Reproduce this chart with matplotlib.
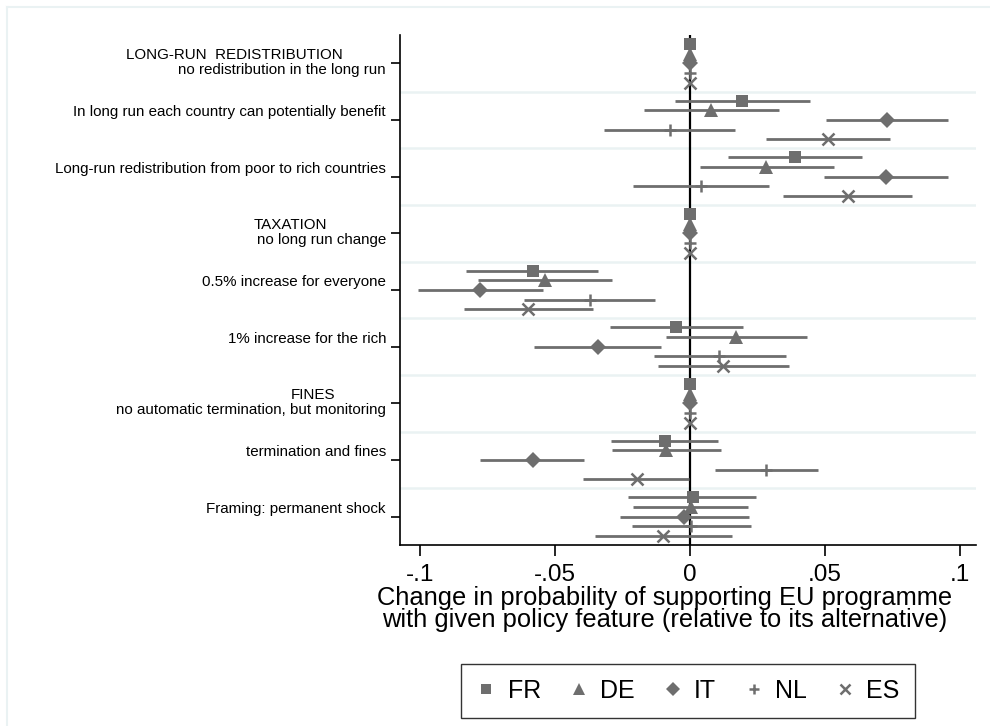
import matplotlib
matplotlib.use("Agg")
import matplotlib.pyplot as plt
import matplotlib.transforms as mtransforms
from matplotlib.lines import Line2D
import numpy as np

plt.rcParams['font.family'] = ['Liberation Sans', 'DejaVu Sans']

# categories, top to bottom
labels = ["no redistribution in the long run",
          "In long run each country can potentially benefit",
          "Long-run redistribution from poor to rich countries",
          "no long run change",
          "0.5% increase for everyone",
          "1% increase for the rich",
          "no automatic termination, but monitoring",
          "termination and fines",
          "Framing: permanent shock"]
headers = {0: "LONG-RUN  REDISTRIBUTION", 3: "TAXATION", 6: "FINES"}
countries = ["FR", "DE", "IT", "NL", "ES"]

# point estimates per country (one value per category)
fr = [0, 0.0194, 0.0389, 0, -0.0583, -0.0052, 0, -0.0093, 0.0010]
de = [0, 0.0078, 0.0283, 0, -0.0537, 0.0171, 0, -0.0088, 0.0005]
it = [0, 0.0728, 0.0726, 0, -0.0778, -0.0342, 0, -0.0583, -0.0023]
nl = [0, -0.0075, 0.0040, 0, -0.0372, 0.0108, 0, 0.0283, 0.0005]
es = [0, 0.0511, 0.0585, 0, -0.0600, 0.0123, 0, -0.0196, -0.0099]

# 95% confidence bounds
fr_lo = [0, -0.0057, 0.0140, 0, -0.0828, -0.0297, 0, -0.0293, -0.0229]
fr_hi = [0, 0.0444, 0.0635, 0, -0.0342, 0.0198, 0, 0.0105, 0.0245]
de_lo = [0, -0.0172, 0.0037, 0, -0.0784, -0.0090, 0, -0.0289, -0.0211]
de_hi = [0, 0.0329, 0.0534, 0, -0.0289, 0.0434, 0, 0.0116, 0.0215]
it_lo = [0, 0.0502, 0.0496, 0, -0.1008, -0.0576, 0, -0.0778, -0.0259]
it_hi = [0, 0.0954, 0.0954, 0, -0.0543, -0.0107, 0, -0.0393, 0.0218]
nl_lo = [0, -0.0318, -0.0211, 0, -0.0615, -0.0134, 0, 0.0093, -0.0214]
nl_hi = [0, 0.0167, 0.0292, 0, -0.0130, 0.0356, 0, 0.0475, 0.0227]
es_lo = [0, 0.0281, 0.0345, 0, -0.0836, -0.0119, 0, -0.0396, -0.0353]
es_hi = [0, 0.0742, 0.0821, 0, -0.0359, 0.0367, 0, -0.0004, 0.0157]

estimates = [fr, de, it, nl, es]
lows = [fr_lo, de_lo, it_lo, nl_lo, es_lo]
highs = [fr_hi, de_hi, it_hi, nl_hi, es_hi]

markers = ['s', '^', 'D', '+', 'x']
msizes = [9, 9.5, 8.5, 9, 8]
offsets = [-0.34, -0.17, 0, 0.17, 0.34]
gray = '#6e6e6e'
grid_col = '#eaf2f3'

fig = plt.figure(figsize=(9.9, 7.26), dpi=100)
ax = fig.add_axes([400 / 990, 1 - 545 / 726, 576 / 990, 510 / 726])

# outer light frame of the graph region
fig.add_artist(Line2D([7 / 990, 7 / 990], [0, 1 - 7 / 726], color=grid_col, lw=1.5))
fig.add_artist(Line2D([7 / 990, 1], [1 - 7 / 726, 1 - 7 / 726], color=grid_col, lw=1.5))

ypos = np.arange(1, len(labels) + 1)

for g in ypos[:-1] + 0.5:
    ax.axhline(g, color=grid_col, lw=1.8, zorder=0)
ax.axvline(0, color='black', lw=1.6, zorder=1)

for est, lo, hi, mk, ms, off, name in zip(estimates, lows, highs, markers, msizes, offsets, countries):
    y = ypos + off
    est = np.array(est)
    lo = np.array(lo)
    hi = np.array(hi)
    has_ci = hi > lo
    ax.hlines(y[has_ci], lo[has_ci], hi[has_ci], color=gray, lw=2, zorder=2)
    mew = 1.8 if mk in ['+', 'x'] else 0
    ax.plot(est, y, linestyle='none', marker=mk, markersize=ms, color=gray,
            markeredgewidth=mew, zorder=3, label=name)

ax.set_xlim(-0.1074, 0.1059)
ax.set_ylim(9.5, 0.5)
ax.set_xticks([-0.1, -0.05, 0, 0.05, 0.1])
ax.set_xticklabels(['-.1', '-.05', '0', '.05', '.1'], fontsize=17.5)
ax.set_yticks(ypos)
ax.set_yticklabels([])
ax.tick_params(axis='x', length=8, width=1.2, pad=6)
ax.tick_params(axis='y', length=6.5, width=1.2)
for s in ['top', 'right']:
    ax.spines[s].set_visible(False)
for s in ['left', 'bottom']:
    ax.spines[s].set_linewidth(1.2)

ax.set_xlabel("Change in probability of supporting EU programme\n"
              "with given policy feature (relative to its alternative)",
              fontsize=18.4, linespacing=0.88)
ax.xaxis.set_label_coords((665 - 400) / 576, -(586 - 545) / 510, transform=ax.transAxes)
ax.xaxis.label.set_va('top')

# category labels left of the axis
blend = mtransforms.blended_transform_factory(ax.transAxes, ax.transData)
header_x = {0: 234, 3: 290, 6: 313}
for i, lab in enumerate(labels):
    dy = 7 if i in headers else -8
    tr = mtransforms.offset_copy(blend, fig=fig, x=-14, y=-dy, units='dots')
    ax.text(0, ypos[i], lab, transform=tr, ha='right', va='center', fontsize=10.9)
    if i in headers:
        trh = mtransforms.offset_copy(blend, fig=fig, x=header_x[i] - 400, y=8, units='dots')
        ax.text(0, ypos[i], headers[i], transform=trh, ha='center', va='center', fontsize=10.9)

leg = fig.legend(loc='center', bbox_to_anchor=(688 / 990, 1 - 691 / 726), ncol=5,
                 fontsize=18, frameon=True, fancybox=False, edgecolor='black',
                 markerscale=0.85, handlelength=0.8, handletextpad=0.45,
                 columnspacing=1.12, borderpad=0.6)
leg.get_frame().set_linewidth(1.0)

fig.savefig('out.png', dpi=100)
